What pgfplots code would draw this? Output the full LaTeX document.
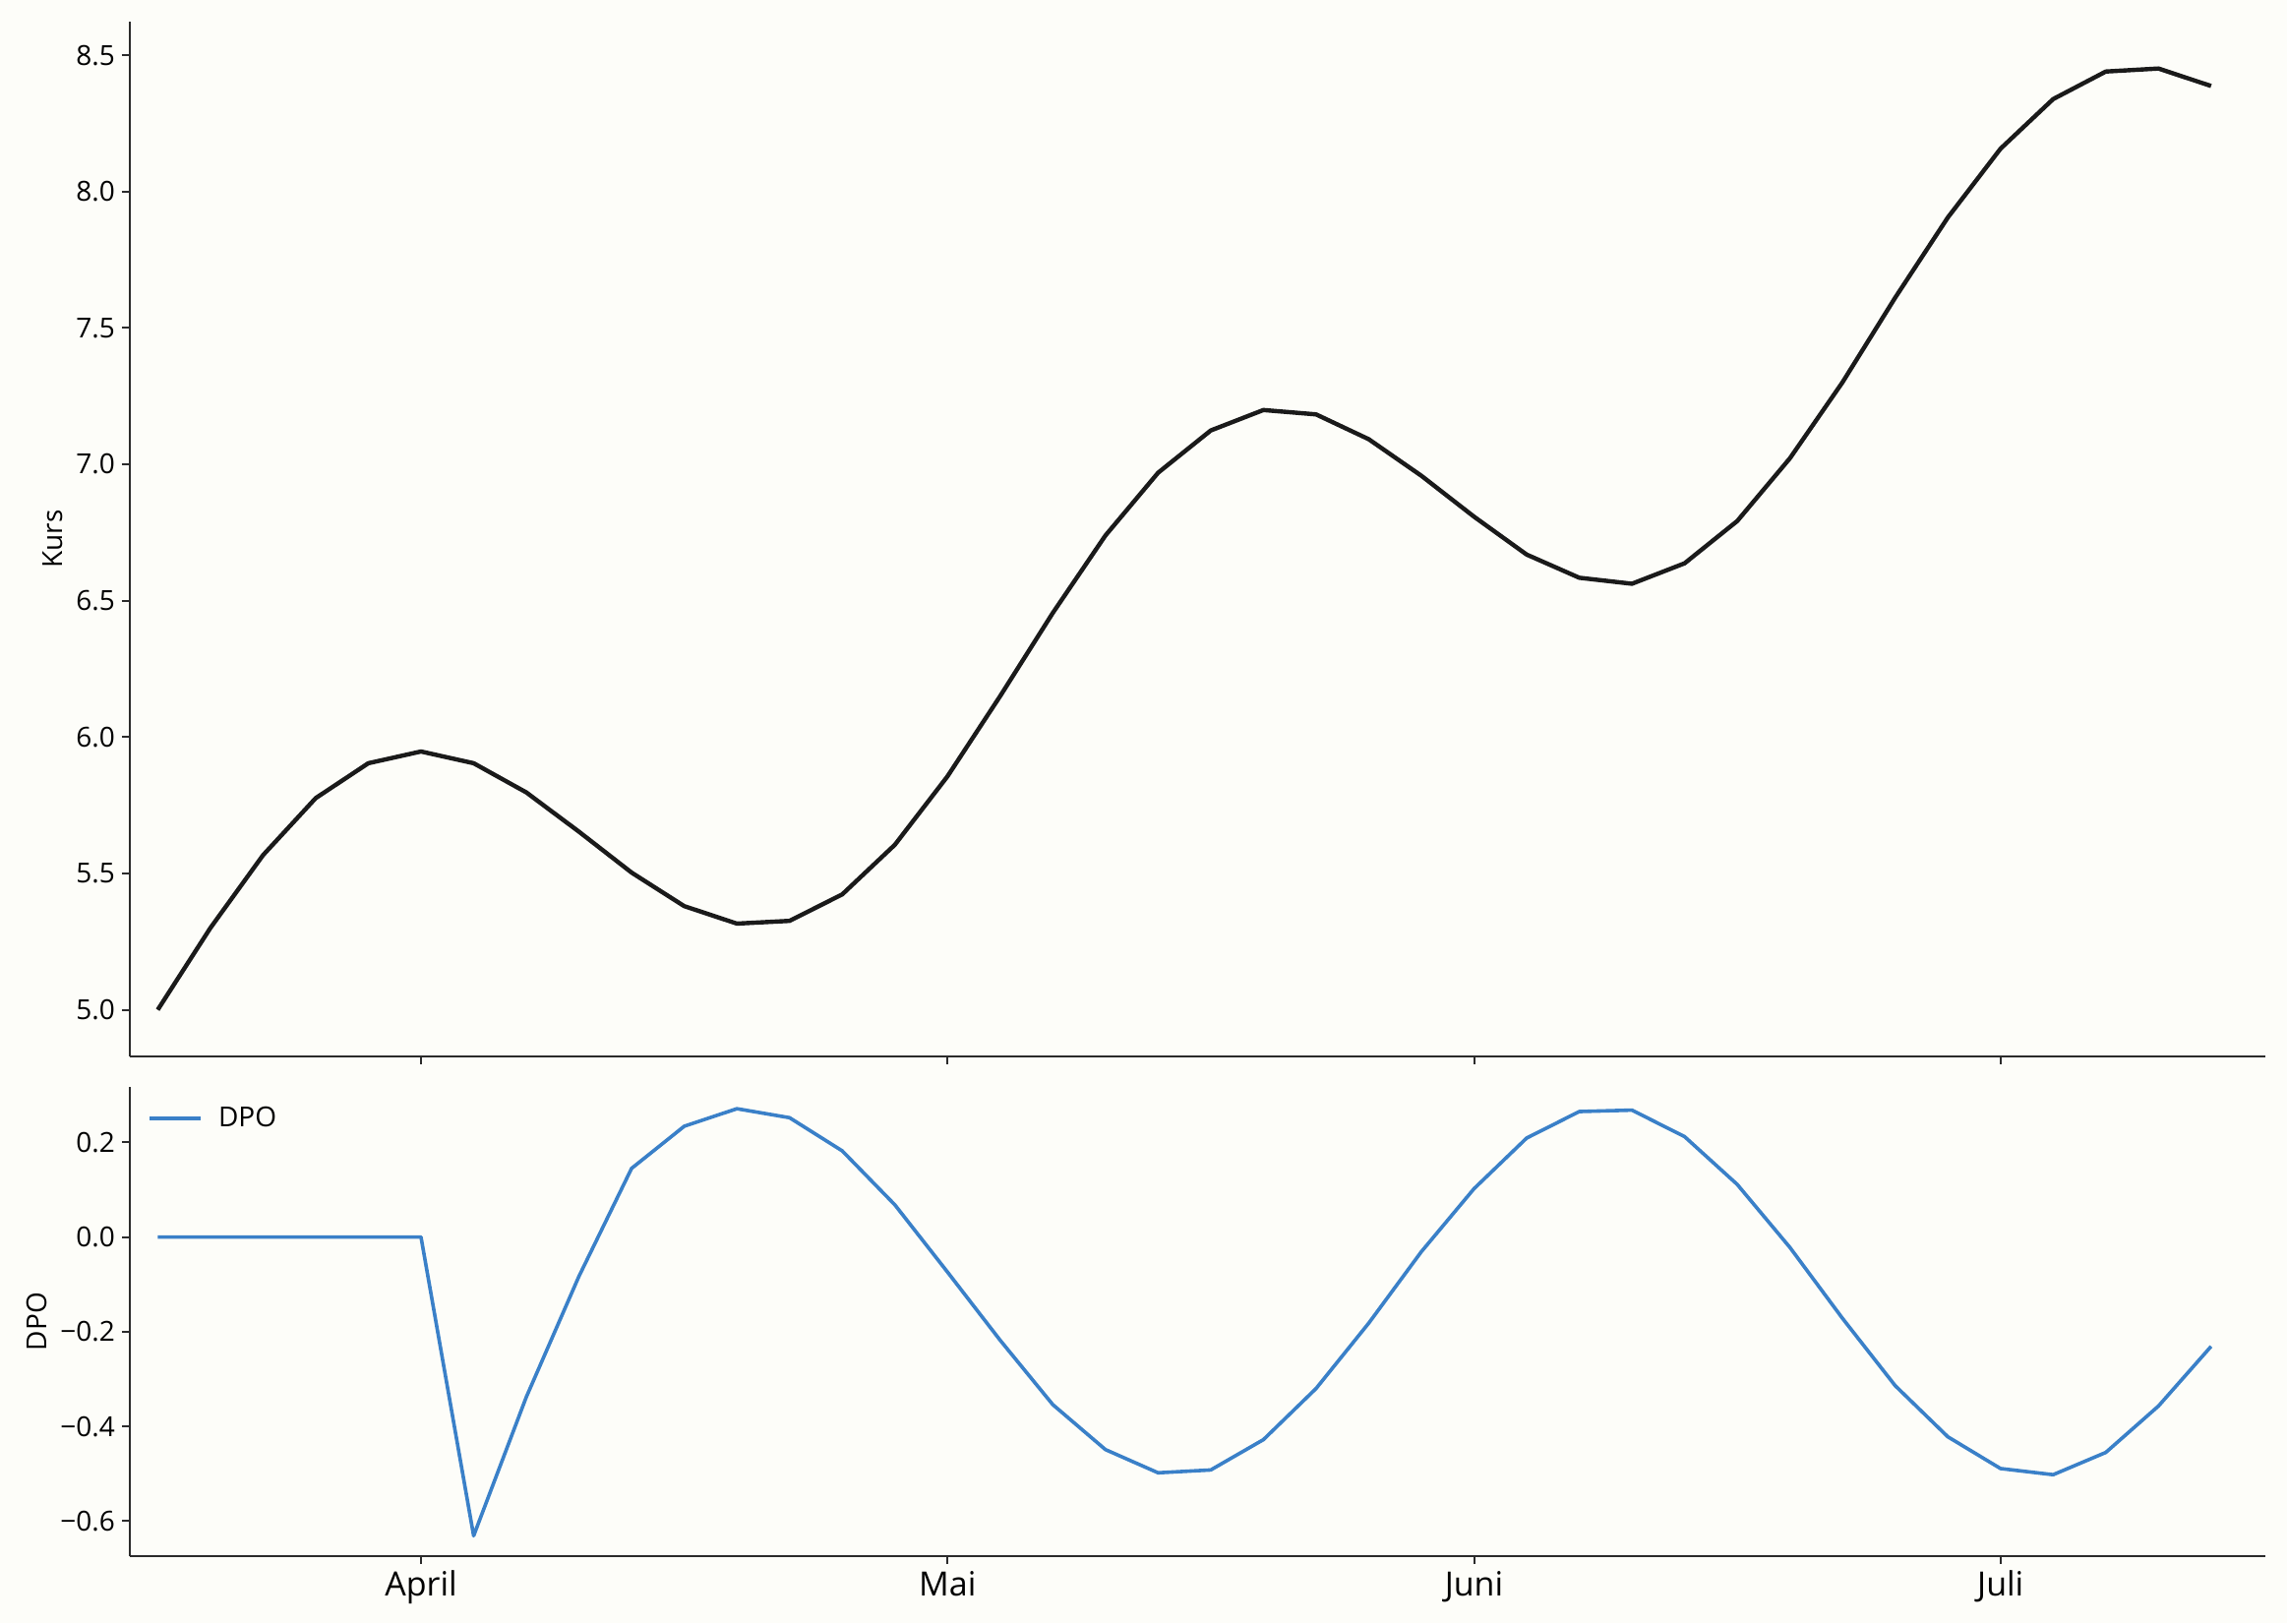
\documentclass[border=0pt]{standalone}
\usepackage{fontspec}
\setmainfont{Open Sans}
\usepackage{pgfplots}
\pgfplotsset{compat=1.18}
\definecolor{bg}{HTML}{FDFDF9}
\definecolor{kurs}{HTML}{1A1A1A}
\definecolor{dpo}{HTML}{3A80C8}
\definecolor{spine}{HTML}{2B2B2B}

\pgfplotstableread{
x kurs dpo
0 5.000 0
1 5.300 0
2 5.567 0
3 5.776 0
4 5.904 0
5 5.947 0
6 5.904 -0.631
7 5.797 -0.338
8 5.653 -0.083
9 5.503 0.145
10 5.380 0.234
11 5.316 0.271
12 5.326 0.252
13 5.423 0.182
14 5.605 0.068
15 5.856 -0.074
16 6.150 -0.218
17 6.455 -0.354
18 6.739 -0.449
19 6.969 -0.498
20 7.124 -0.492
21 7.199 -0.428
22 7.183 -0.320
23 7.092 -0.182
24 6.958 -0.031
25 6.808 0.102
26 6.669 0.209
27 6.584 0.265
28 6.562 0.268
29 6.637 0.212
30 6.792 0.111
31 7.022 -0.022
32 7.301 -0.172
33 7.611 -0.314
34 7.905 -0.422
35 8.157 -0.489
36 8.339 -0.502
37 8.440 -0.455
38 8.451 -0.357
39 8.387 -0.231
}\data

\pgfplotsset{
    panel/.style={
        scale only axis,
        width=1085.5pt,
        xmin=-0.53, xmax=40.03,
        axis x line*=bottom,
        axis y line*=left,
        axis line style={-, draw=spine, line width=1pt},
        tick align=outside,
        major tick length=4pt,
        tick style={draw=spine, line width=1pt},
        xtick={5,15,25,35},
        tick label style={font=\fontsize{14}{16}\selectfont},
        ylabel style={font=\fontsize{14}{16}\selectfont},
    },
}

\begin{document}
\begin{tikzpicture}
\fill[bg] (0,0) rectangle (1162.5pt,825pt);
\path[use as bounding box] (0,0) rectangle (1162.5pt,825pt);

% price panel
\begin{axis}[
    panel,
    at={(66pt,288pt)}, anchor=south west,
    height=526pt,
    ymin=4.829, ymax=8.623,
    xticklabels={},
    ytick={5,5.5,6,6.5,7,7.5,8,8.5},
    yticklabels={5.0,5.5,6.0,6.5,7.0,7.5,8.0,8.5},
    ylabel={Kurs},
]
\addplot[kurs, line width=2.2pt, line join=round] table[x=x, y=kurs] {\data};
\end{axis}

% DPO panel
\begin{axis}[
    panel,
    at={(66pt,34pt)}, anchor=south west,
    height=238.5pt,
    ymin=-0.674, ymax=0.317,
    xticklabels={April,Mai,Juni,Juli},
    x tick label style={font=\fontsize{17}{19}\selectfont},
    ytick={-0.6,-0.4,-0.2,0,0.2},
    yticklabels={−0.6,−0.4,−0.2,0.0,0.2},
    ylabel={DPO},
    legend style={at={(0,1)}, anchor=north west, xshift=9pt, yshift=-8pt,
        draw=none, fill=none, inner sep=0pt,
        font=\fontsize{14}{16}\selectfont,
        /tikz/every odd column/.append style={column sep=6pt}},
    legend image code/.code={\draw[#1] (0pt,0pt) -- (26pt,0pt);},
    legend cell align=left,
]
\addplot[dpo, line width=1.8pt, line join=round] table[x=x, y=dpo] {\data};
\addlegendentry{DPO}
\end{axis}
\end{tikzpicture}
\end{document}
